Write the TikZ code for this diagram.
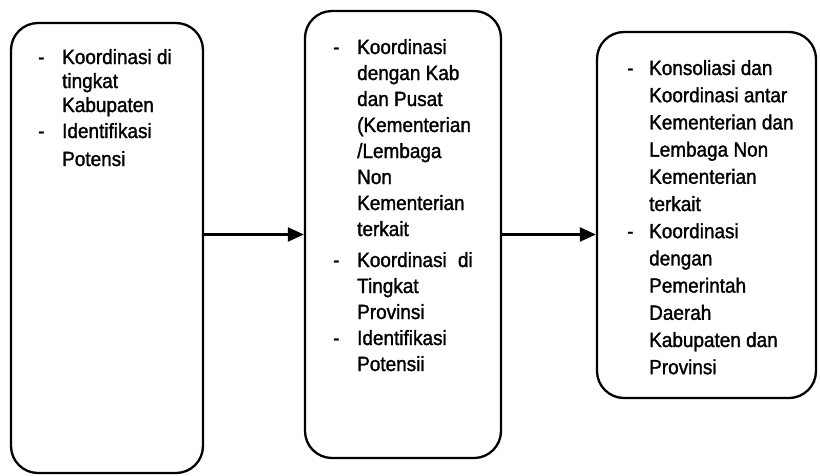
\documentclass[tikz,border=0pt]{standalone}
\usepackage{fontspec}
\setmainfont{Liberation Sans}[FakeStretch=0.92,FakeBold=1.4]
\usetikzlibrary{arrows.meta}
\begin{document}
\begin{tikzpicture}[x=1pt,y=1pt,
  panel/.style={draw=black, line width=2.3pt, rounded corners=27pt, inner sep=0pt},
  bullets/.style={anchor=base west, inner sep=0pt},
  flow/.style={draw=black, line width=2.3pt, -{Triangle[length=16pt,width=14pt]}}]
\path[use as bounding box] (0,0) rectangle (820,-475);

% three stages
\node[panel, minimum width=192pt, minimum height=450pt] (b1) at (107,-248) {};
\node[panel, minimum width=196pt, minimum height=447pt] (b2) at (403,-234.5) {};
\node[panel, minimum width=219pt, minimum height=366pt] (b3) at (706.5,-215) {};

% bullet lists
\node[bullets] (t1) at (38,-64) {\fontsize{20.6}{24}\selectfont
  \begin{tabular}[t]{@{}p{24pt}@{}l@{}}
  - & Koordinasi di\\
    & tingkat\\
    & Kabupaten\\[2pt]
  - & Identifikasi\\[4pt]
    & Potensi
  \end{tabular}};

\node[bullets] (t2) at (333,-54) {\fontsize{20.6}{26}\selectfont
  \begin{tabular}[t]{@{}p{24pt}@{}l@{}}
  - & Koordinasi\\
    & dengan Kab\\
    & dan Pusat\\
    & (Kementerian\\
    & /Lembaga\\
    & Non\\
    & Kementerian\\
    & terkait\\[5pt]
  - & Koordinasi\hspace{6pt} di\\
    & Tingkat\\
    & Provinsi\\
  - & Identifikasi\\
    & Potensii
  \end{tabular}};

\node[bullets] (t3) at (627,-75) {\fontsize{20.6}{27.2}\selectfont
  \begin{tabular}[t]{@{}p{22pt}@{}l@{}}
  - & Konsoliasi dan\\
    & Koordinasi antar\\
    & Kementerian dan\\
    & Lembaga Non\\
    & Kementerian\\
    & terkait\\
  - & Koordinasi\\
    & dengan\\
    & Pemerintah\\
    & Daerah\\
    & Kabupaten dan\\
    & Provinsi
  \end{tabular}};

% connectors
\draw[flow] (b1.east |- b2.west) -- (b2.west);
\draw[flow] (b2.east) -- (b3.west |- b2.east);
\end{tikzpicture}
\end{document}
